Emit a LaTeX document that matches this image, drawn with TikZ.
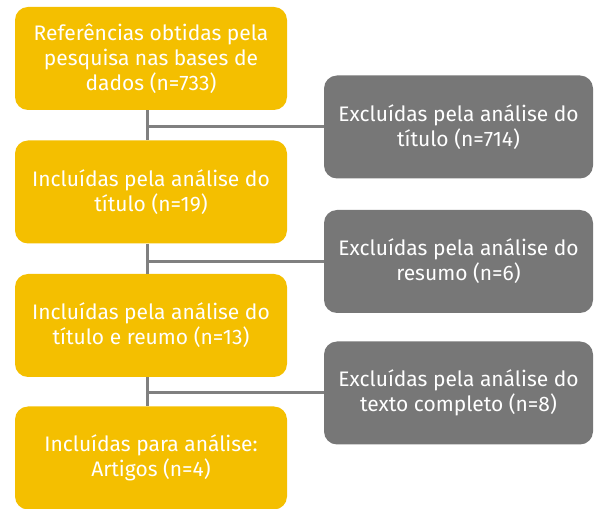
\documentclass[tikz,border=0pt]{standalone}
\usepackage{fontspec}
\setmainfont{Fira Sans}
\definecolor{boxyellow}{HTML}{F4BF00}
\definecolor{boxgray}{HTML}{777777}
\definecolor{linegray}{HTML}{808080}
\begin{document}
\begin{tikzpicture}[x=1pt,y=1pt,
  ybox/.style={fill=boxyellow, rounded corners=13pt, minimum width=272pt, minimum height=103pt, inner sep=0pt, align=center, text=white, font=\fontsize{21}{25}\selectfont},
  gbox/.style={fill=boxgray, rounded corners=13pt, minimum width=269pt, minimum height=103pt, inner sep=0pt, align=center, text=white, font=\fontsize{21}{25}\selectfont},
  conn/.style={draw=linegray, line width=3pt}]
\useasboundingbox (0,0) rectangle (595,509);
\node[ybox] (b1) at (151,450.5) {Referências obtidas pela\\pesquisa nas bases de\\dados (n=733)};
\node[ybox] (b2) at (151,317) {Incluídas pela análise do\\título (n=19)};
\node[ybox] (b3) at (151,183.5) {Incluídas pela análise do\\título e reumo (n=13)};
\node[ybox] (b4) at (151,51) {Incluídas para análise:\\Artigos (n=4)};
\node[gbox] (g1) at (458.5,382) {Excluídas pela análise do\\título (n=714)};
\node[gbox] (g2) at (458.5,247.5) {Excluídas pela análise do\\resumo (n=6)};
\node[gbox] (g3) at (458.5,116) {Excluídas pela análise do\\texto completo (n=8)};
\coordinate (spine) at (147,0);
\draw[conn] (b1.south -| spine) -- (b2.north -| spine);
\draw[conn] (b2.south -| spine) -- (b3.north -| spine);
\draw[conn] (b3.south -| spine) -- (b4.north -| spine);
\draw[conn] (g1.west) -- (g1.west -| spine);
\draw[conn] (g2.west) -- (g2.west -| spine);
\draw[conn] (g3.west) -- (g3.west -| spine);
\end{tikzpicture}
\end{document}
